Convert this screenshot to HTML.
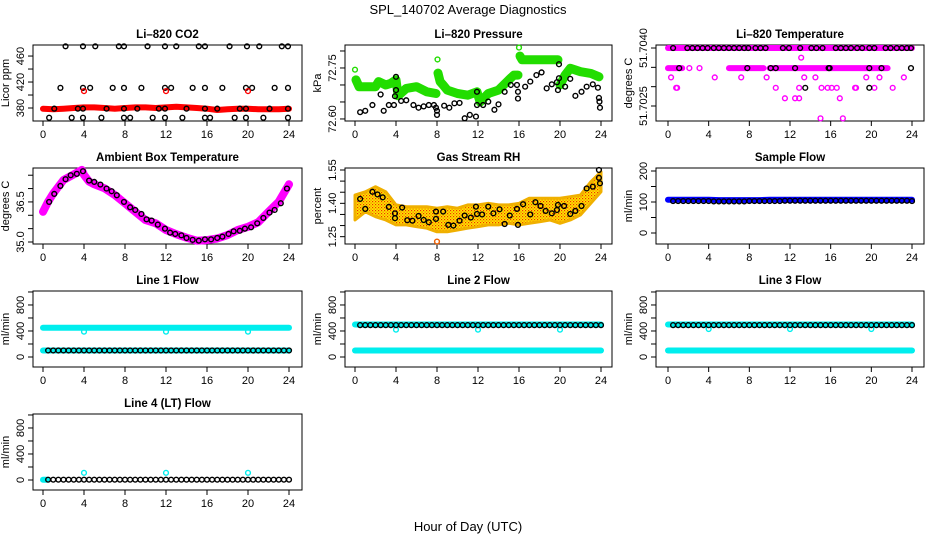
<!DOCTYPE html>
<html><head><meta charset="utf-8"><style>
html,body{margin:0;padding:0;background:#fff;}
svg{display:block;font-family:"Liberation Sans",Arial,sans-serif;}
</style></head><body>
<svg id="c" width="936" height="540" viewBox="0 0 936 540" xmlns="http://www.w3.org/2000/svg">
<defs>
<pattern id="rhpat" width="3" height="3" patternUnits="userSpaceOnUse">
<rect width="3" height="3" fill="#ffe800"/><rect x="0" y="0" width="1.2" height="1.2" fill="#f03000"/><rect x="1.5" y="1.5" width="1.2" height="1.2" fill="#f07000"/>
</pattern>
</defs>
<text x="468" y="14" text-anchor="middle" font-size="13">SPL_140702  Average Diagnostics</text>
<text x="468" y="531" text-anchor="middle" font-size="13">Hour of Day (UTC)</text>
</svg>
<script>
// ---------- data ----------
const xTicks=[0,4,8,12,16,20,24];
const halfHours=[0.5,1,1.5,2,2.5,3,3.5,4,4.5,5,5.5,6,6.5,7,7.5,8,8.5,9,9.5,10,10.5,11,11.5,12,12.5,13,13.5,14,14.5,15,15.5,16,16.5,17,17.5,18,18.5,19,19.5,20,20.5,21,21.5,22,22.5,23,23.5,24];
const hours=[0,1,2,3,4,5,6,7,8,9,10,11,12,13,14,15,16,17,18,19,20,21,22,23,24];

// CO2
const co2Red=[379,378,379,380,381,381,380,379,380,381,381,380,381,382,381,380,379,377,378,379,379,378,378,378,379];
const co2BlkT=[2.2,3.9,5.1,7.4,7.9,10.2,11.9,13,15.2,15.8,18.2,19.9,21.1,23.3,23.9, 1.7,3.9,4.6,6.8,7.9,9.6,11.9,12.5,14.6,15.8,17.5,19.8,20.4,22.6,23.9, 1.1,3.4,3.9,6.2,7.9,9.2,11.3,11.9,14,15.8,17,19.2,19.8,22.1,23.9, 0.6,2.8,3.9,5.7,7.9,8.5,10.7,11.9,13.6,15.8,16.3,18.7,19.8,21.5,23.9];
const co2BlkV=[475,475,475,475,475,475,475,475,475,475,475,475,475,475,475, 411,411,411,411,411,411,411,411,411,411,411,411,411,411,411, 379,379,379,379,379,379,379,379,379,379,379,379,379,379,379, 365,365,365,365,365,365,365,365,365,365,365,365,365,365,365];
const co2OutT=[4,12,20];
const co2OutV=[406,406,406];

// Pressure (segments split at jumps)
const presSeg1T=[0.1,0.4,1,2,2.3,3,3.5,4,4.2,5,6,7,7.9];
const presSeg1V=[72.715,72.695,72.695,72.695,72.710,72.700,72.705,72.715,72.668,72.690,72.695,72.680,72.675];
const presSeg2T=[8.1,8.3,8.6,9,10,11,11.9,12.2,13,14,15,15.5,15.9];
const presSeg2V=[72.735,72.71,72.700,72.685,72.675,72.670,72.680,72.650,72.675,72.685,72.715,72.729,72.729];
const presSeg3T=[16.1,16.3,17,18,19,19.8];
const presSeg3V=[72.785,72.774,72.774,72.774,72.774,72.774];
const presSeg4T=[20,20.5,21,22,23,23.8];
const presSeg4V=[72.700,72.729,72.749,72.739,72.734,72.724];
const presGreenOutT=[0,8.05,16];
const presGreenOutV=[72.745,72.775,72.81];
const presBlkT=[0.5,1,1.7,2.5,2.8,3.3,3.8,3.9,4,4,4.5,5,5.7,6.2,6.7,7.2,7.7,7.9,8,8,8.7,9.2,9.7,10.2,10.7,11.2,11.8,11.9,11.9,12.5,13,13.6,14,14.6,15.2,15.8,15.9,15.9,16.6,17.1,17.7,18.2,18.7,19.2,19.7,19.8,19.9,19.9,20.5,21,21.5,22.1,22.6,23.2,23.7,23.8,23.85,23.9];
const presBlkV=[72.620,72.624,72.641,72.672,72.624,72.641,72.641,72.667,72.724,72.685,72.653,72.655,72.641,72.633,72.637,72.641,72.641,72.633,72.624,72.612,72.639,72.633,72.646,72.647,72.602,72.612,72.607,72.641,72.680,72.641,72.651,72.627,72.643,72.680,72.700,72.700,72.680,72.660,72.695,72.710,72.729,72.737,72.690,72.702,72.708,72.685,72.720,72.761,72.695,72.718,72.668,72.680,72.695,72.702,72.692,72.662,72.651,72.633];

// Li-820 temperature
const tempSegStart=[0,0,6.0,10.0];
const tempSegEnd=[24,1.4,9.4,21.6];
const tempSegV=[51.7040,51.70348,51.70348,51.70348];
const tempMagT=[0.3,4.6,7.2,9.7,14.5,19.5,20.8,23.2,13.4, 0.8,0.9,10.6,12.9,15.1,15.7,16.1,16.6,18.4,18.5,20.3,22.1, 11.5,12.5,12.9,16.9, 15,17.2, 13.1, 2.1,3.1];
const tempMagV=[51.70324,51.70324,51.70324,51.70324,51.70324,51.70324,51.70324,51.70324,51.70324, 51.70297,51.70297,51.70297,51.70297,51.70297,51.70297,51.70297,51.70297,51.70297,51.70297,51.70297,51.70297, 51.7027,51.7027,51.7027,51.7027, 51.70218,51.70218, 51.70375, 51.70348,51.70348];
const tempBlkT=[0.5,1.9,2.4,2.9,3.4,3.9,4.5,5.0,5.5,6.0,6.5,7.0,7.5,7.9,8.6,9.1,9.6,11.3,11.9,13.0,14.1,14.6,15.2,16.5,17.0,17.5,18.0,18.6,19.1,19.8,20.3,21.4,21.9,22.5,23.0,23.5,23.9, 1.1,7.8,10.1,10.6,12.5,15.8,15.9,19.8,21.0,23.9, 13.5,19.8];
const tempBlkV=[51.7040,51.7040,51.7040,51.7040,51.7040,51.7040,51.7040,51.7040,51.7040,51.7040,51.7040,51.7040,51.7040,51.7040,51.7040,51.7040,51.7040,51.7040,51.7040,51.7040,51.7040,51.7040,51.7040,51.7040,51.7040,51.7040,51.7040,51.7040,51.7040,51.7040,51.7040,51.7040,51.7040,51.7040,51.7040,51.7040,51.7040, 51.70348,51.70348,51.70348,51.70348,51.70348,51.70348,51.70348,51.70348,51.70348,51.70348, 51.70297,51.70297];

// Ambient box temperature
const ambT=[0,0.5,1,2,3,3.8,4,4.5,5,6,7,8,9,10,11,12,13,14,15,16,17,18,19,20,21,22,23,24];
const ambV=[36.13,36.51,36.82,37.32,37.53,37.70,37.51,37.26,37.16,37.01,36.76,36.45,36.13,35.82,35.70,35.45,35.29,35.16,35.05,35.07,35.13,35.26,35.45,35.57,35.74,36.13,36.51,37.16];
const ambBlkT=[0.6,1.1,1.7,2.2,2.7,3.3,3.9,4.5,5.0,5.6,6.2,6.7,7.2,7.9,8.5,9.0,9.6,10.1,10.6,11.2,11.9,12.4,12.9,13.5,14.0,14.6,15.2,15.8,16.4,17.0,17.5,18.1,18.6,19.2,19.7,20.3,20.9,21.5,22.1,22.6,23.2,23.8];
const ambBlkV=[36.5,36.8,37.1,37.35,37.5,37.55,37.65,37.3,37.25,37.15,37.0,36.9,36.75,36.5,36.3,36.2,36.05,35.85,35.8,35.65,35.5,35.35,35.3,35.25,35.15,35.08,35.05,35.1,35.1,35.15,35.2,35.3,35.4,35.42,35.5,35.55,35.7,35.9,36.1,36.2,36.45,37.0];

// Gas stream RH
const rhUpper=[1.437,1.452,1.475,1.452,1.393,1.385,1.385,1.385,1.378,1.385,1.378,1.393,1.393,1.400,1.393,1.393,1.400,1.423,1.423,1.423,1.423,1.430,1.437,1.497,1.542];
const rhLower=[1.325,1.362,1.340,1.325,1.303,1.303,1.295,1.288,1.272,1.272,1.280,1.288,1.295,1.303,1.303,1.310,1.303,1.310,1.317,1.325,1.310,1.325,1.348,1.400,1.452];
const rhBlkT=[0.5,1,1.7,2.2,2.7,3.3,3.9,3.9,4.6,5.1,5.6,6.2,6.7,7.2,7.9,7.9,8.6,9.1,9.6,10.2,10.7,11.3,11.8,11.9,12.4,13,13.5,14.1,14.6,15.1,15.8,15.9,16.4,17.1,17.6,18.1,18.6,19.2,19.7,19.8,20.4,21,21.5,22.1,22.6,23.2,23.8,23.8,23.9];
const rhBlkV=[1.420,1.375,1.452,1.44,1.427,1.384,1.355,1.333,1.381,1.324,1.322,1.343,1.325,1.315,1.363,1.330,1.363,1.303,1.300,1.322,1.345,1.336,1.385,1.352,1.350,1.385,1.355,1.373,1.307,1.345,1.375,1.303,1.396,1.350,1.405,1.388,1.366,1.355,1.370,1.393,1.388,1.352,1.366,1.388,1.467,1.475,1.550,1.515,1.490];
const rhOutT=[8];
const rhOutV=[1.228];

// Flows
const sampleBlue=[107,107,107,107,107,106,106,106,106,106,107,107,107,107,107,107,107,107,107,107,107,107,107,107,107];
const sampleBlk=[103,103,103,103,103,103,103,103,102,102,102,102,102,102,102,103,103,103,103,103,103,103,104,104,104,104,104,104,104,104,104,104,104,104,104,104,104,104,104,104,104,104,104,104,104,104,104,103];
const line1Hi=[450,450,450,450,450,450,450,450,450,450,450,450,450,450,450,450,450,450,450,450,450,450,450,450,450];
const line1Lo=[100,100,100,100,100,100,100,100,100,100,100,100,100,100,100,100,100,100,100,100,100,100,100,100,100];
const line1Blk=[100,100,100,100,100,100,100,100,100,100,100,100,100,100,100,100,100,100,100,100,100,100,100,100,100,100,100,100,100,100,100,100,100,100,100,100,100,100,100,100,100,100,100,100,100,100,100,100];
const line2Hi=[500,500,500,500,500,500,500,500,500,500,500,500,500,500,500,500,500,500,500,500,500,500,500,500,500];
const line2Lo=[100,100,100,100,100,100,100,100,100,100,100,100,100,100,100,100,100,100,100,100,100,100,100,100,100];
const line2Blk=[490,490,490,490,490,490,490,490,490,490,490,490,490,490,490,490,490,490,490,490,490,490,490,490,490,490,490,490,490,490,490,490,490,490,490,490,490,490,490,490,490,490,490,490,490,490,490,490];
const line4Blk=[5,5,5,5,5,5,5,5,5,5,5,5,5,5,5,5,5,5,5,5,5,5,5,5,5,5,5,5,5,5,5,5,5,5,5,5,5,5,5,5,5,5,5,5,5,5,5,5];
const flowOutT=[4,12,20];
const line1OutV=[390,390,390];
const line2OutV=[420,420,420];
const line3OutV=[430,430,430];
const line4OutV=[110,110,110];

// ---------- drawing ----------
const svg=document.getElementById('c');
const NS='http://www.w3.org/2000/svg';
function mk(tag,attrs,parent){const e=document.createElementNS(NS,tag);for(const k in attrs)e.setAttribute(k,attrs[k]);(parent||svg).appendChild(e);return e;}
const cols=[{l:33,r:302,x0:43,x24:289},{l:345,r:612,x0:355,x24:601},{l:656,r:924,x0:668,x24:912}];
const rows=[{t:45,b:121},{t:168,b:244},{t:291,b:367},{t:414,b:490}];

function panel(ci,ri,cfg){
  const c=cols[ci],r=rows[ri];
  const g=mk('g',{});
  
  
  const X=t=>c.x0+(t/24)*(c.x24-c.x0);
  const Y=v=>r.b-(v-cfg.lo)/(cfg.hi-cfg.lo)*(r.b-r.t);
  const tt=mk('text',{x:(c.l+c.r)/2,y:r.t-7,'text-anchor':'middle','font-size':11.5,'font-weight':'bold'},g);
  tt.textContent=cfg.title;
  
  
  const box=mk('rect',{x:c.l,y:r.t,width:c.r-c.l,height:r.b-r.t,fill:'none',stroke:'#000','stroke-width':1},g);
  
  
  xTicks.forEach(t=>{
    mk('line',{x1:X(t),x2:X(t),y1:r.b,y2:r.b+5,stroke:'#000'},g);
    const tx=mk('text',{x:X(t),y:r.b+17,'text-anchor':'middle','font-size':11},g);
    tx.textContent=t;
    
    
  });
  cfg.ticks.forEach(v=>{mk('line',{x1:c.l-5,x2:c.l,y1:Y(v),y2:Y(v),stroke:'#000'},g);});
  cfg.labels.forEach((s,i)=>{
    const yy=Y(cfg.labelV[i]);
    const tx=mk('text',{x:c.l-9,y:yy,'text-anchor':'middle','font-size':11,transform:`rotate(-90 ${c.l-9} ${yy})`},g);
    tx.textContent=s;
    
    
  });
  const cy=(r.t+r.b)/2,lx=c.l-24;
  const yl=mk('text',{x:lx,y:cy,'text-anchor':'middle','font-size':11,transform:`rotate(-90 ${lx} ${cy})`},g);
  yl.textContent=cfg.ylab;
  
  
  return {g,X,Y};
}
function band(p,ts,vs,color,w,name){
  const pts=ts.map((t,i)=>p.X(t).toFixed(1)+','+p.Y(vs[i]).toFixed(1)).join(' ');
  const pl=mk('polyline',{points:pts,fill:'none',stroke:color,'stroke-width':w,'stroke-linecap':'round','stroke-linejoin':'round'},p.g);
  
  
}
function pts(p,ts,vs,color,name,rad){
  ts.forEach((t,i)=>{
    const e=mk('circle',{cx:p.X(t),cy:p.Y(vs[i]),r:rad||2.4,fill:'none',stroke:color,'stroke-width':1.4},p.g);
    
    
  });
}

// Li-820 CO2
let p=panel(0,0,{name:'panel-co2',title:'Li–820 CO2',ylab:'Licor ppm',lo:360,hi:477,ticks:[380,400,420,440,460],labels:['380','420','460'],labelV:[380,420,460]});
band(p,hours,co2Red,'#f00',6,'co2-series');
pts(p,co2BlkT,co2BlkV,'#000','co2-point');
pts(p,co2OutT,co2OutV,'#f00','co2-outlier');

// Pressure
p=panel(1,0,{name:'panel-pressure',title:'Li–820 Pressure',ylab:'kPa',lo:72.594,hi:72.8176,ticks:[72.60,72.65,72.70,72.75,72.80],labels:['72.60','72.75'],labelV:[72.60,72.75]});
band(p,presSeg1T,presSeg1V,'#22dd00',9,'pressure-series');
band(p,presSeg2T,presSeg2V,'#22dd00',9,'pressure-series');
band(p,presSeg3T,presSeg3V,'#22dd00',9,'pressure-series');
band(p,presSeg4T,presSeg4V,'#22dd00',9,'pressure-series');
pts(p,presGreenOutT,presGreenOutV,'#22dd00','pressure-green-point');
pts(p,presBlkT,presBlkV,'#000','pressure-point');

// Li-820 Temperature
p=panel(2,0,{name:'panel-li820-temperature',title:'Li–820 Temperature',ylab:'degrees C',lo:51.702112,hi:51.704078,ticks:[51.7025,51.7030,51.7035,51.7040],labels:['51.7025','51.7040'],labelV:[51.7025,51.7040]});
tempSegStart.forEach((s,i)=>band(p,[s,tempSegEnd[i]],[tempSegV[i],tempSegV[i]],'#ff00ff',6,'temperature-series'));
pts(p,tempMagT,tempMagV,'#ff00ff','temperature-magenta-point');
pts(p,tempBlkT,tempBlkV,'#000','temperature-point');

// Ambient Box Temperature
p=panel(0,1,{name:'panel-ambient-temperature',title:'Ambient Box Temperature',ylab:'degrees C',lo:34.925,hi:37.77,ticks:[35.0,35.5,36.0,36.5,37.0,37.5],labels:['35.0','36.5'],labelV:[35.0,36.5]});
band(p,ambT,ambV,'#ff00ff',8,'ambient-series');
pts(p,ambBlkT,ambBlkV,'#000','ambient-point');

// Gas Stream RH
p=panel(1,1,{name:'panel-gas-rh',title:'Gas Stream RH',ylab:'percent',lo:1.217,hi:1.559,ticks:[1.25,1.30,1.35,1.40,1.45,1.50,1.55],labels:['1.25','1.40','1.55'],labelV:[1.25,1.40,1.55]});
{
  const up=hours.map((t,i)=>p.X(t).toFixed(1)+','+p.Y(rhUpper[i]).toFixed(1));
  const lo=hours.map((t,i)=>p.X(t).toFixed(1)+','+p.Y(rhLower[i]).toFixed(1)).reverse();
  const poly=mk('polygon',{points:up.concat(lo).join(' '),fill:'url(#rhpat)',stroke:'#f0b000','stroke-width':3,'stroke-linejoin':'round'},p.g);
  
  
}
pts(p,rhOutT,rhOutV,'#f06000','rh-outlier');
pts(p,rhBlkT,rhBlkV,'#000','rh-point');

// Sample Flow
p=panel(2,1,{name:'panel-sample-flow',title:'Sample Flow',ylab:'ml/min',lo:-35.5,hi:209.7,ticks:[0,50,100,150,200],labels:['0','100','200'],labelV:[0,100,200]});
band(p,hours,sampleBlue,'#0000ff',6,'sample-flow-series');
pts(p,halfHours,sampleBlk,'#000','sample-flow-point');

const flowCfg=(name,title)=>({name,title,ylab:'ml/min',lo:-154,hi:1015,ticks:[0,200,400,600,800,1000],labels:['0','400','800'],labelV:[0,400,800]});
p=panel(0,2,flowCfg('panel-line1-flow','Line 1 Flow'));
band(p,hours,line1Hi,'#00eeee',6,'line1-flow-high');
band(p,hours,line1Lo,'#00eeee',6,'line1-flow-low');
pts(p,flowOutT,line1OutV,'#00eeee','line1-outlier');
pts(p,halfHours,line1Blk,'#000','line1-point');
p=panel(1,2,flowCfg('panel-line2-flow','Line 2 Flow'));
band(p,hours,line2Hi,'#00eeee',6,'line2-flow-high');
band(p,hours,line2Lo,'#00eeee',6,'line2-flow-low');
pts(p,flowOutT,line2OutV,'#00eeee','line2-outlier');
pts(p,halfHours,line2Blk,'#000','line2-point');
p=panel(2,2,flowCfg('panel-line3-flow','Line 3 Flow'));
band(p,hours,line2Hi,'#00eeee',6,'line3-flow-high');
band(p,hours,line2Lo,'#00eeee',6,'line3-flow-low');
pts(p,flowOutT,line3OutV,'#00eeee','line3-outlier');
pts(p,halfHours,line2Blk,'#000','line3-point');
p=panel(0,3,flowCfg('panel-line4-flow','Line 4 (LT) Flow'));
band(p,[0,0.4],[5,5],'#00eeee',6,'line4-flow-series');
pts(p,flowOutT,line4OutV,'#00eeee','line4-outlier');
pts(p,halfHours,line4Blk,'#000','line4-point');
</script>
</body></html>
